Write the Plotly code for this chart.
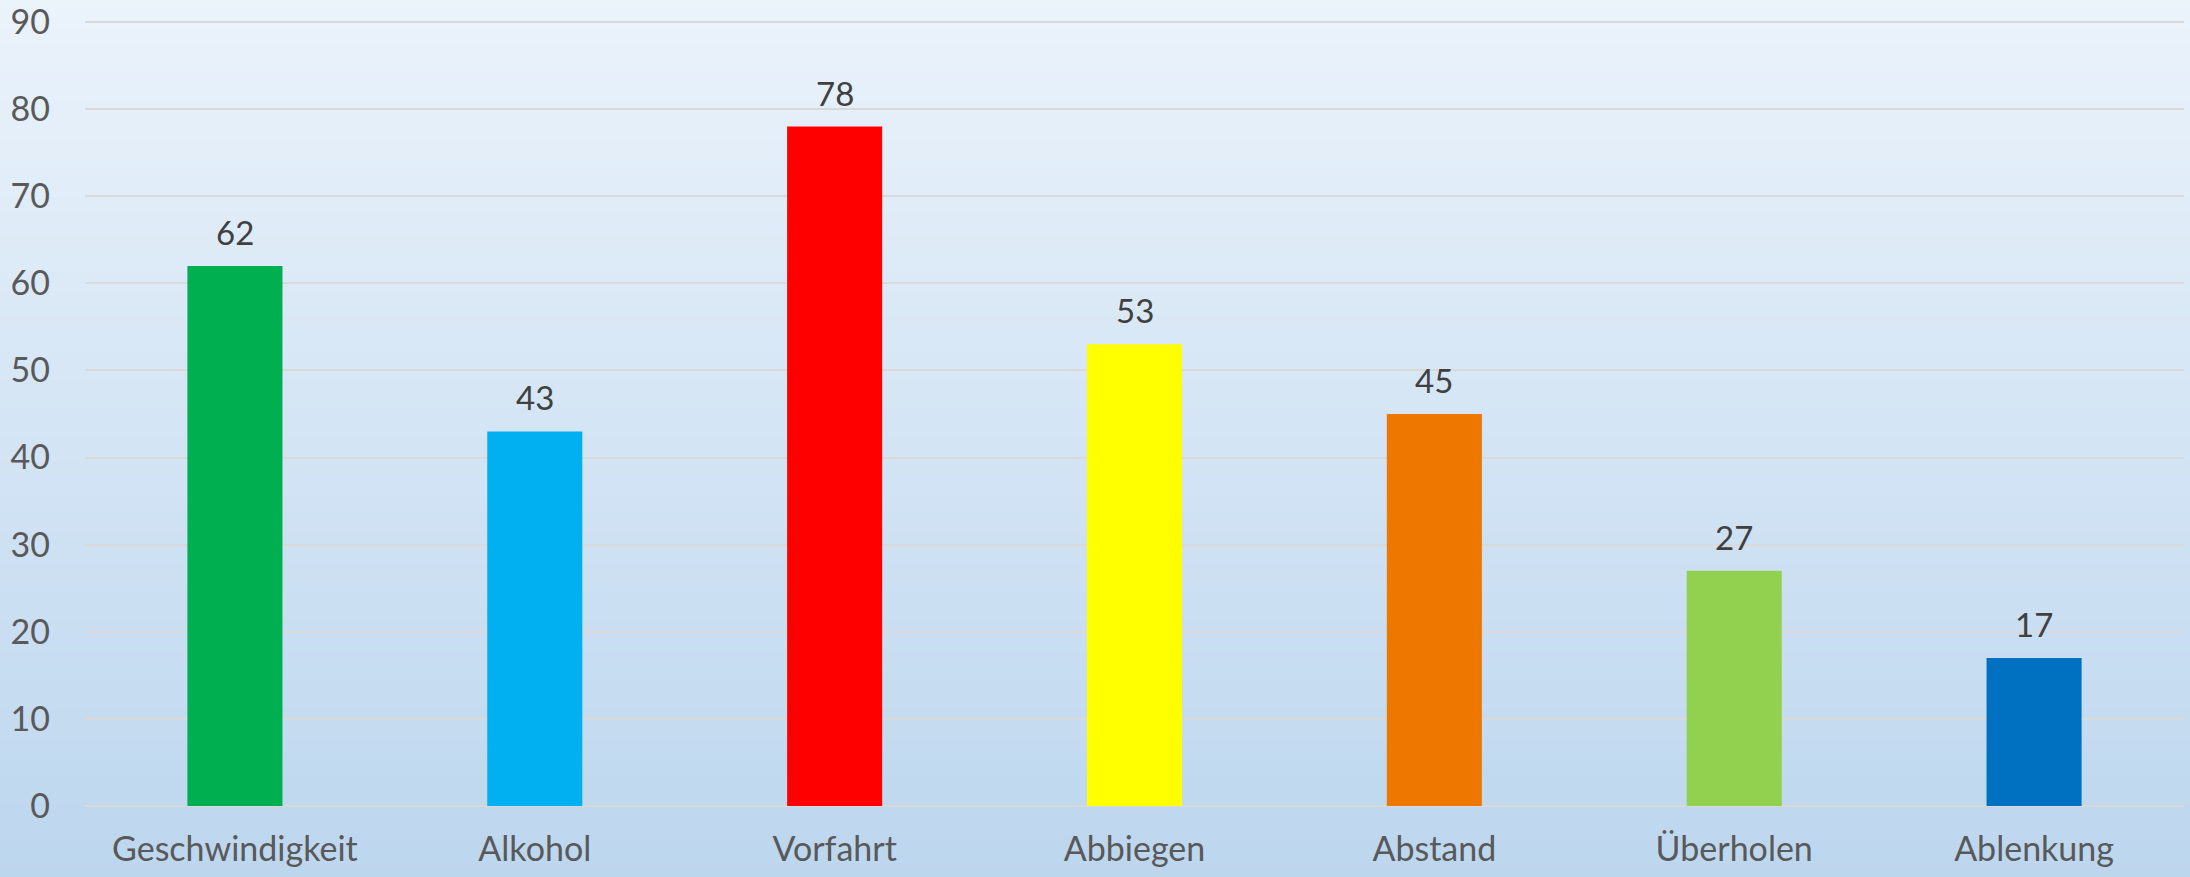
import plotly.graph_objects as go

categories = ["Geschwindigkeit", "Alkohol", "Vorfahrt", "Abbiegen", "Abstand", "Überholen", "Ablenkung"]
values = [62, 43, 78, 53, 45, 27, 17]
bar_colors = ["#00B050", "#00B0F0", "#FF0000", "#FFFF00", "#EE7700", "#92D050", "#0070C0"]
y_ticks = [0, 10, 20, 30, 40, 50, 60, 70, 80, 90]

W, H = 2190, 877
ml, mr, mt, mb = 85, 6, 19, 71
FONT = "Lato, 'Open Sans', sans-serif"

fig = go.Figure()
fig.add_trace(go.Bar(
    x=categories, y=values, marker=dict(color=bar_colors, line=dict(width=0)),
    hoverinfo="x+y",
))

for c, v in zip(categories, values):
    fig.add_annotation(x=c, y=v, text=str(v), showarrow=False, yanchor="bottom",
                       yshift=12, font=dict(family=FONT, size=33, color="#404040"))

# vertical gradient background
plot_h = H - mt - mb
y0p = -mb / plot_h
y1p = 1 + mt / plot_h
plot_w = W - ml - mr
x0p = -ml / plot_w
x1p = 1 + mr / plot_w
top = (235, 243, 251)
bot = (188, 214, 238)
n = 120
for i in range(n):
    t = (i + 0.5) / n
    r = round(bot[0] + (top[0] - bot[0]) * t)
    g = round(bot[1] + (top[1] - bot[1]) * t)
    b = round(bot[2] + (top[2] - bot[2]) * t)
    fig.add_shape(type="rect", xref="paper", yref="paper", layer="below",
                  x0=x0p - 0.01, x1=x1p + 0.01,
                  y0=y0p + (y1p - y0p) * i / n - (0.02 if i == 0 else 0),
                  y1=y0p + (y1p - y0p) * (i + 1) / n + (0.02 if i == n - 1 else 0.002),
                  fillcolor=f"rgb({r},{g},{b})", line=dict(width=0))

fig.update_layout(
    width=W, height=H,
    margin=dict(l=ml, r=mr, t=mt, b=mb, pad=0, autoexpand=False),
    paper_bgcolor="#D3E4F5", plot_bgcolor="rgba(0,0,0,0)",
    bargap=0.683, showlegend=False,
    font=dict(family=FONT, size=34, color="#595959"),
    xaxis=dict(showgrid=False, showline=False, ticks="", ticklabelstandoff=20,
               automargin=False, ticklabeloverflow="allow",
               tickfont=dict(size=34, color="#595959")),
    yaxis=dict(range=[0, 90.34], tickvals=y_ticks, showgrid=True, gridcolor="#D9D9D9",
               gridwidth=2, zeroline=True, zerolinecolor="#D9D9D9", zerolinewidth=2,
               showline=False, ticks="", ticklabelstandoff=34, automargin=False,
               ticklabeloverflow="allow",
               tickfont=dict(size=34, color="#595959")),
)

fig.write_html("out.html", config={"displayModeBar": False},
               post_script="document.body.style.margin='0';document.body.style.overflow='hidden';")
